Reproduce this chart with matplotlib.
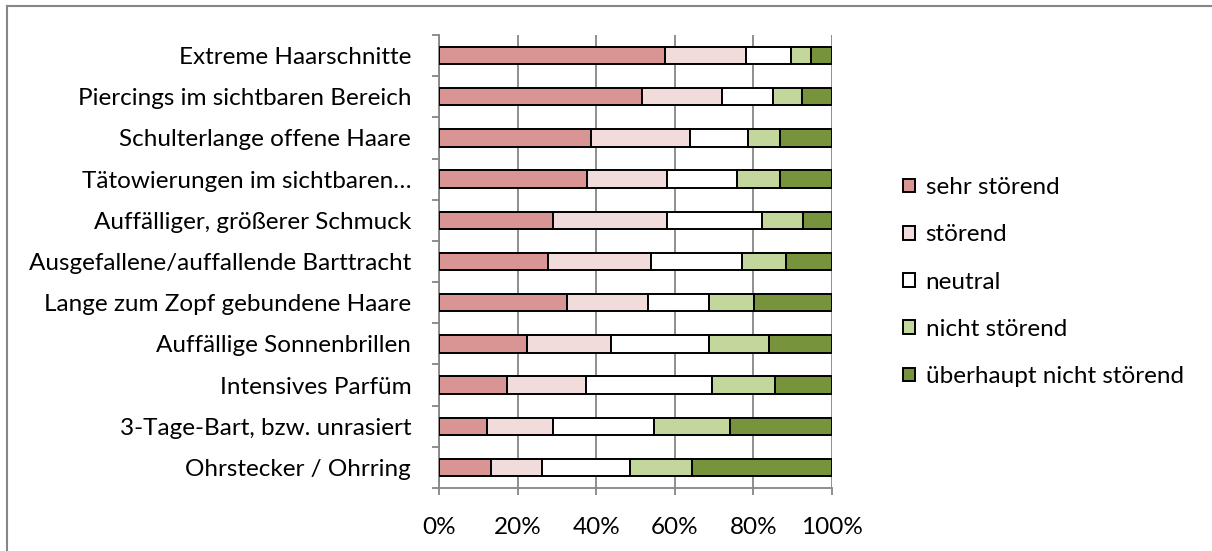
import numpy as np
import matplotlib.pyplot as plt
from matplotlib.lines import Line2D

plt.rcParams['font.family'] = ['Lato', 'DejaVu Sans']

### Data (percent), top to bottom
kategorien = ['Extreme Haarschnitte',
              'Piercings im sichtbaren Bereich',
              'Schulterlange offene Haare',
              'Tätowierungen im sichtbaren…',
              'Auffälliger, größerer Schmuck',
              'Ausgefallene/auffallende Barttracht',
              'Lange zum Zopf gebundene Haare',
              'Auffällige Sonnenbrillen',
              'Intensives Parfüm',
              '3-Tage-Bart, bzw. unrasiert',
              'Ohrstecker / Ohrring']

sehr_stoerend = [57.4, 51.7, 38.7, 37.6, 29.1, 27.8, 32.5, 22.5, 17.2, 12.1, 13.2]
stoerend = [20.8, 20.4, 25.1, 20.4, 28.9, 26.1, 20.6, 21.2, 20.1, 16.9, 12.9]
neutral = [11.3, 13.0, 14.8, 17.8, 24.2, 23.2, 15.7, 25.1, 32.1, 25.7, 22.6]
nicht_stoerend = [5.1, 7.3, 8.2, 10.9, 10.3, 11.3, 11.3, 15.1, 16.0, 19.3, 15.8]
ueberhaupt_nicht = [5.4, 7.6, 13.2, 13.3, 7.5, 11.6, 19.9, 16.1, 14.6, 26.0, 35.5]

serien = ['sehr störend', 'störend', 'neutral', 'nicht störend', 'überhaupt nicht störend']
farben = ['#D99594', '#F2DCDB', '#FFFFFF', '#C3D69B', '#77933C']
werte = [sehr_stoerend, stoerend, neutral, nicht_stoerend, ueberhaupt_nicht]

fs = 17.5

fig = plt.figure(figsize=(12.12, 5.51), dpi=100)
ax = fig.add_axes([439/1212, 63/551, 393/1212, 453/551])

y = np.arange(len(kategorien))
links = np.zeros(len(kategorien))
for name, farbe, w in zip(serien, farben, werte):
    w = np.array(w)
    ax.barh(y, w, left=links, height=0.42, color=farbe, edgecolor='black',
            linewidth=1.4, label=name, zorder=3)
    links += w

ax.set_xlim(0, 100)
ax.set_ylim(len(kategorien) - 0.5, -0.5)
ax.set_xticks(np.arange(0, 101, 20))
ax.set_xticklabels([f'{v}%' for v in range(0, 101, 20)])
ax.set_yticks(y)
ax.set_yticklabels(kategorien)
ax.set_yticks(np.arange(-0.5, len(kategorien)), minor=True)
ax.tick_params(axis='y', which='major', length=0, pad=20, labelsize=fs)
ax.tick_params(axis='y', which='minor', length=5, width=1.3, color='#868686')
ax.tick_params(axis='x', length=5, width=1.3, color='#868686', pad=16, labelsize=fs)
ax.grid(axis='x', color='#868686', linewidth=1.3, zorder=0)
for s in ['top', 'right']:
    ax.spines[s].set_visible(False)
for s in ['left', 'bottom']:
    ax.spines[s].set_color('#868686')
    ax.spines[s].set_linewidth(1.3)

leg = ax.legend(loc='upper left', bbox_to_anchor=(891/1212, (551-165)/551),
                bbox_transform=fig.transFigure, frameon=False, fontsize=fs,
                handlelength=0.5, handleheight=0.5, handletextpad=0.42,
                labelspacing=1.08, borderpad=0)
for h in leg.legend_handles:
    h.set_linewidth(1.4)

### chart border (top and left visible)
fig.add_artist(Line2D([7/1212, 1], [1 - 6/551] * 2, color='#868686', linewidth=1.5))
fig.add_artist(Line2D([7/1212] * 2, [0, 1 - 6/551], color='#868686', linewidth=1.5))

fig.savefig('out.png', dpi=100)
